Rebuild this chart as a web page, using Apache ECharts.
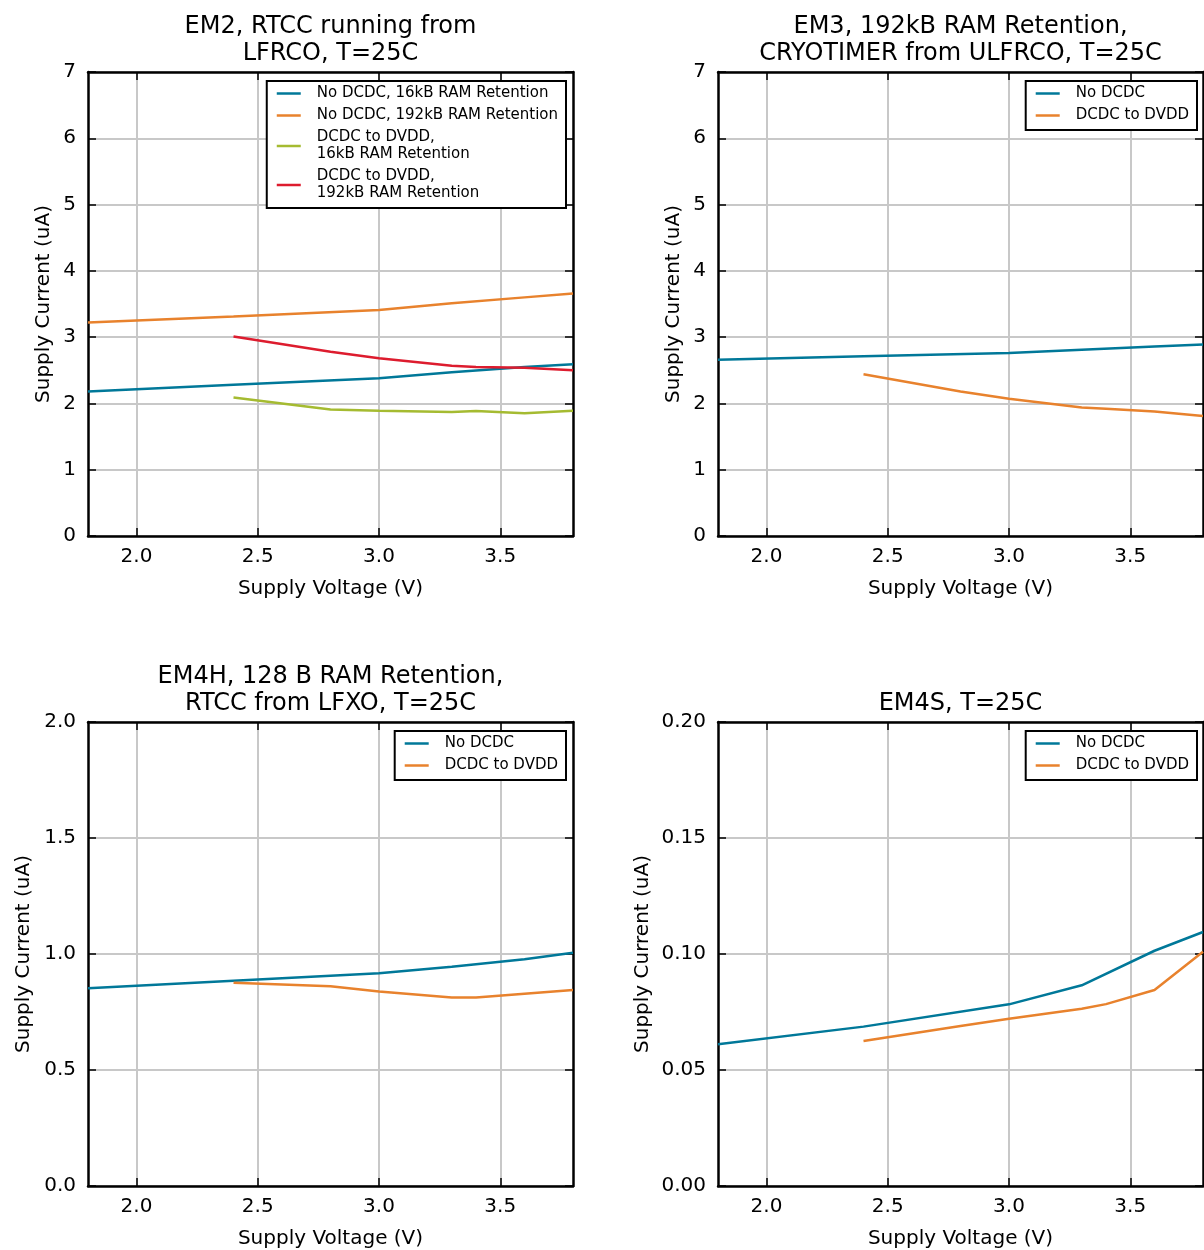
<!DOCTYPE html>
<html><head><meta charset="utf-8">
<script src="https://cdn.jsdelivr.net/npm/echarts@6/dist/echarts.min.js"></script>
<style>html,body{margin:0;padding:0;background:#fff}#c{width:1204px;height:1250px}</style>
</head><body><div id="c"></div>
<script>
// ---- data ----
const voltNoDcdc = [1.8, 2.4, 3.0, 3.3, 3.6, 3.8];
const voltDcdc = [2.4, 2.8, 3.0, 3.3, 3.4, 3.6, 3.8];
const xTickValues = [2.0, 2.5, 3.0, 3.5];

// EM2
const em2NoDcdc16k = [2.18, 2.28, 2.38, 2.47, 2.55, 2.59];
const em2NoDcdc192k = [3.22, 3.31, 3.41, 3.51, 3.60, 3.66];
const em2Dcdc16k = [2.09, 1.91, 1.89, 1.87, 1.885, 1.85, 1.89];
const em2Dcdc192k = [3.01, 2.78, 2.68, 2.57, 2.55, 2.54, 2.50];
// EM3
const em3NoDcdc = [2.66, 2.71, 2.76, 2.81, 2.86, 2.89];
const em3Dcdc = [2.44, 2.18, 2.07, 1.94, 1.92, 1.88, 1.81];
// EM4H
const em4hNoDcdc = [0.852, 0.885, 0.917, 0.945, 0.977, 1.005];
const em4hDcdc = [0.876, 0.861, 0.838, 0.813, 0.813, 0.829, 0.845];
// EM4S
const em4sNoDcdc = [0.0611, 0.0687, 0.0783, 0.0865, 0.1014, 0.1095];
const em4sDcdc = [0.0625, 0.0690, 0.0721, 0.0764, 0.0784, 0.0845, 0.1010];

const titles = [
  'EM2, RTCC running from\nLFRCO, T=25C',
  'EM3, 192kB RAM Retention,\nCRYOTIMER from ULFRCO, T=25C',
  'EM4H, 128 B RAM Retention,\nRTCC from LFXO, T=25C',
  'EM4S, T=25C'
];
const xLabel = 'Supply Voltage (V)';
const yLabel = 'Supply Current (uA)';
const yMax = [7, 7, 2, 0.2];
const yInterval = [1, 1, 0.5, 0.05];
const yDecimals = [0, 0, 1, 2];

const NAME_A = 'No DCDC, 16kB RAM Retention';
const NAME_B = 'No DCDC, 192kB RAM Retention';
const NAME_C = 'DCDC to DVDD,\n16kB RAM Retention';
const NAME_D = 'DCDC to DVDD,\n192kB RAM Retention';
const NAME_N = 'No DCDC';
const NAME_Dv = 'DCDC to DVDD';

// ---- styling ----
const FONT = 'DejaVu Sans';
const BLUE = '#007899', ORANGE = '#e8822d', GREEN = '#a5bb31', RED = '#dd1c2e';

const grids = [
  {left: 88, top: 72, width: 485, height: 464},
  {left: 718, top: 72, width: 485, height: 464},
  {left: 88, top: 722, width: 485, height: 464},
  {left: 718, top: 722, width: 485, height: 464}
];
const yNameGap = [34, 34, 54, 65];

const pairs = (xs, ys) => xs.map((x, i) => [x, ys[i]]);

const xAxes = [], yAxes = [];
grids.forEach((g, i) => {
  xAxes.push({
    type: 'value', gridIndex: i, min: 1.8, max: 3.8, position: 'bottom',
    name: xLabel, nameLocation: 'middle', nameGap: 43,
    nameTextStyle: {fontFamily: FONT, fontSize: 20, color: '#000'},
    axisLine: {show: true, onZero: false, lineStyle: {color: '#000', width: 2.5}},
    axisTick: {show: true, inside: true, length: 8, customValues: xTickValues, lineStyle: {color: '#000', width: 1.5}},
    axisLabel: {show: true, customValues: xTickValues, margin: 11, fontFamily: FONT, fontSize: 20, color: '#000',
      formatter: v => Number(v).toFixed(1)},
    splitLine: {show: true, lineStyle: {color: '#c8c8c8', width: 2}}
  });
  xAxes.push({
    type: 'value', gridIndex: i, min: 1.8, max: 3.8, position: 'top',
    name: titles[i], nameLocation: 'middle', nameGap: 5,
    nameTextStyle: {fontFamily: FONT, fontSize: 24, lineHeight: 27, color: '#000'},
    axisLine: {show: true, onZero: false, lineStyle: {color: '#000', width: 2.5}},
    axisTick: {show: true, inside: true, length: 8, customValues: xTickValues, lineStyle: {color: '#000', width: 1.5}},
    axisLabel: {show: false},
    splitLine: {show: false}
  });
  const dec = yDecimals[i];
  yAxes.push({
    type: 'value', gridIndex: i, min: 0, max: yMax[i], interval: yInterval[i], position: 'left',
    name: yLabel, nameLocation: 'middle', nameGap: yNameGap[i], nameRotate: 90,
    nameTextStyle: {fontFamily: FONT, fontSize: 20, color: '#000'},
    axisLine: {show: true, onZero: false, lineStyle: {color: '#000', width: 2.5}},
    axisTick: {show: true, inside: true, length: 8, lineStyle: {color: '#000', width: 1.5}},
    axisLabel: {show: true, margin: 12, fontFamily: FONT, fontSize: 20, color: '#000', padding: [4, 0, 0, 0],
      showMinLabel: true, showMaxLabel: true, hideOverlap: false,
      formatter: v => Number(v).toFixed(dec)},
    splitLine: {show: true, lineStyle: {color: '#c8c8c8', width: 2}}
  });
  yAxes.push({
    type: 'value', gridIndex: i, min: 0, max: yMax[i], interval: yInterval[i], position: 'right',
    axisLine: {show: true, onZero: false, lineStyle: {color: '#000', width: 2.5}},
    axisTick: {show: true, inside: true, length: 8, lineStyle: {color: '#000', width: 1.5}},
    axisLabel: {show: false},
    splitLine: {show: false}
  });
});

function line(name, color, gi, xs, ys) {
  return {
    type: 'line', name, xAxisIndex: 2 * gi, yAxisIndex: 2 * gi,
    data: pairs(xs, ys), showSymbol: false, symbol: 'none', smooth: false,
    lineStyle: {color, width: 2.5}, itemStyle: {color}, emphasis: {disabled: true}, z: 3
  };
}

const series = [
  line(NAME_A, BLUE, 0, voltNoDcdc, em2NoDcdc16k),
  line(NAME_B, ORANGE, 0, voltNoDcdc, em2NoDcdc192k),
  line(NAME_C, GREEN, 0, voltDcdc, em2Dcdc16k),
  line(NAME_D, RED, 0, voltDcdc, em2Dcdc192k),
  line(NAME_N, BLUE, 1, voltNoDcdc, em3NoDcdc),
  line(NAME_Dv, ORANGE, 1, voltDcdc, em3Dcdc),
  line(NAME_N, BLUE, 2, voltNoDcdc, em4hNoDcdc),
  line(NAME_Dv, ORANGE, 2, voltDcdc, em4hDcdc),
  line(NAME_N, BLUE, 3, voltNoDcdc, em4sNoDcdc),
  line(NAME_Dv, ORANGE, 3, voltDcdc, em4sDcdc)
];

function legend(names, right, top) {
  return {
    data: names, orient: 'vertical', right, top, selectedMode: false,
    icon: 'rect', itemWidth: 24, itemHeight: 2.5, itemGap: 5,
    padding: [4, 8, 6, 10], borderColor: '#000', borderWidth: 2, backgroundColor: '#fff',
    textStyle: {fontFamily: FONT, fontSize: 15, lineHeight: 17, color: '#000', padding: [0, 0, 0, 11]}
  };
}

const option = {
  backgroundColor: '#fff',
  animation: false,
  textStyle: {fontFamily: FONT},
  grid: grids.map(g => Object.assign({containLabel: false, outerBoundsMode: 'none'}, g)),
  xAxis: xAxes,
  yAxis: yAxes,
  legend: [
    legend([NAME_A, NAME_B, NAME_C, NAME_D], 638, 81),
    legend([NAME_N, NAME_Dv], 7, 81),
    legend([NAME_N, NAME_Dv], 638, 731),
    legend([NAME_N, NAME_Dv], 7, 731)
  ],
  series
};

const chart = echarts.init(document.getElementById('c'), null, {renderer: 'canvas'});
chart.setOption(option);
</script>
</body></html>
